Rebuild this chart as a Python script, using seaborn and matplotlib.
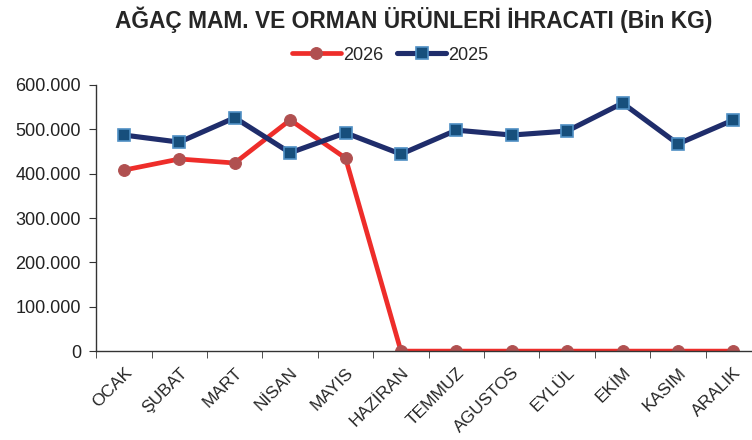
import pandas as pd
import seaborn as sns
import matplotlib.pyplot as plt
from matplotlib.ticker import FuncFormatter, FixedLocator

sns.set_style("ticks")
plt.rcParams['font.family'] = ['Liberation Sans', 'DejaVu Sans']

months = ['OCAK', 'ŞUBAT', 'MART', 'NİSAN', 'MAYIS', 'HAZİRAN',
          'TEMMUZ', 'AGUSTOS', 'EYLÜL', 'EKİM', 'KASIM', 'ARALIK']
y2026 = [408000, 433000, 424000, 521000, 435000, 0, 0, 0, 0, 0, 0, 0]
y2025 = [487000, 471000, 526000, 447000, 492000, 444000,
         498000, 487000, 496000, 559000, 467000, 521000]

df = pd.DataFrame({'ay': months * 2,
                   'deger': y2026 + y2025,
                   'yil': ['2026'] * 12 + ['2025'] * 12})

fig = plt.figure(figsize=(7.52, 4.4), dpi=100)
ax = fig.add_axes([0.128, 0.202, 0.884, 0.605])

sns.lineplot(ax=ax, data=df[df.yil == '2026'], x='ay', y='deger', sort=False,
             color='#ee2d2a', lw=3.4, marker='o', markersize=8.5,
             markerfacecolor='#b05050', markeredgecolor='#b05050', label='2026')
sns.lineplot(ax=ax, data=df[df.yil == '2025'], x='ay', y='deger', sort=False,
             color='#1f2d6b', lw=3.7, marker='s', markersize=8,
             markerfacecolor='#174f7c', markeredgecolor='#4f8fc4', markeredgewidth=1.2,
             label='2025')

ax.set_xlim(-0.5, 11.5)
ax.set_ylim(0, 600000)
ax.set_yticks(range(0, 600001, 100000))
ax.yaxis.set_major_formatter(FuncFormatter(lambda v, p: f"{int(v):,}".replace(',', '.')))
ax.tick_params(axis='y', labelsize=13, length=5, pad=6, color='#333333', labelcolor='#222222')
ax.set_xticks(range(12))
ax.set_xticklabels(months, rotation=45, ha='right', rotation_mode='anchor', fontsize=12.5)
ax.tick_params(axis='x', which='major', length=0, pad=10)
ax.xaxis.set_minor_locator(FixedLocator([i - 0.5 for i in range(13)]))
ax.tick_params(axis='x', which='minor', length=5, color='#333333')
ax.set_xlabel('')
ax.set_ylabel('')
sns.despine(ax=ax)
for s in ['left', 'bottom']:
    ax.spines[s].set_color('#333333')
    ax.spines[s].set_linewidth(1)

leg = ax.legend(loc='center', bbox_to_anchor=(0.442, 1.112), ncol=2, frameon=False,
                fontsize=13, handlelength=2.7, handletextpad=0.1, columnspacing=0.8)

fig.suptitle('AĞAÇ MAM. VE ORMAN ÜRÜNLERİ İHRACATI (Bin KG)', x=0.55, y=0.985,
             fontsize=16.4, fontweight='bold')

fig.savefig('out.png', dpi=100)
